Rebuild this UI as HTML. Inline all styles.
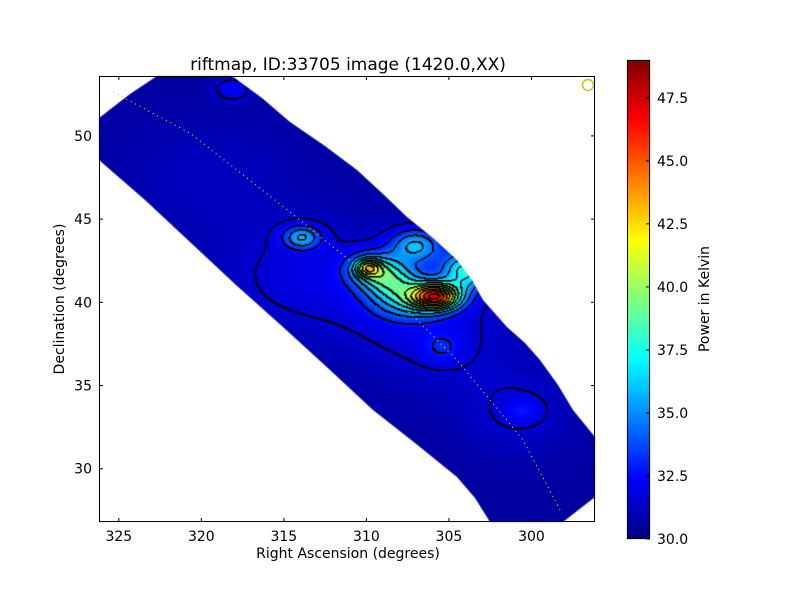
<!DOCTYPE html>
<html><head><meta charset="utf-8"><style>
body{margin:0;background:#fff;width:800px;height:600px;overflow:hidden;font-family:"DejaVu Sans","Liberation Sans",sans-serif}
#wrap{position:relative;width:800px;height:600px}
canvas,svg{position:absolute;left:0;top:0}
</style></head><body>
<div id="wrap">
<canvas id="hm" width="800" height="600"></canvas>
<svg id="ov" width="800" height="600"></svg>
</div>
<script>
// Gaussian emission components: RA (deg), Dec (deg), amplitude (K), sigma RA, sigma Dec
const srcRA  = [313.5, 306.0, 319.5, 301.0, 305.75, 309.9, 313.9, 304.0, 308.3, 307.0, 305.4, 300.5, 318.1, 307.5, 309.6];
const srcDec = [41.5,  38.5,  47.5,  33.5,  40.35,  42.07, 43.9,  41.9,  41.2,  43.4,  37.3,  33.5,  52.8,  40.0,  42.0];
const srcAmp = [1.2,   1.2,   0.6,   0.9,   13.5,   5.5,   4.5,  6.5,   5.0,   5.0,   1.5,   1.2,   1.6,   3.5,   5.0];
const srcSx  = [4.0,   3.5,   4.0,   2.5,   1.0,    0.5,   0.8,  1.0,   1.3,   1.1,   0.8,   0.8,   0.8,   1.5,   1.1];
const srcSy  = [2.5,   2.5,   2.5,   2.0,   0.55,   0.35,  0.5,  0.8,   0.8,   0.7,   0.6,   0.5,   0.5,   0.8,   0.7];
const baseLevel = 30.6;
const vmin = 30.0, vmax = 49.0;
const contourStart = 31.5, contourStep = 1.4;
const xTicks = [325, 320, 315, 310, 305, 300];
const yTicks = [30, 35, 40, 45, 50];
const cbTicks = [30.0, 32.5, 35.0, 37.5, 40.0, 42.5, 45.0, 47.5];

const PL=99, PR=595, PT=76, PB=522;
const raL=326.2, raR=296.15, decT=53.6, decB=26.8;
const xPx = ra => PL + (raL-ra)/(raL-raR)*(PR-PL);
const yPx = d => PT + (decT-d)/(decT-decB)*(PB-PT);
const raOf = x => raL - (x-PL)/(PR-PL)*(raL-raR);
const decOf = y => decT - (y-PT)/(PB-PT)*(decT-decB);
const CBT=60, CBB=539, CBL=627, CBR=650;
const cbY = v => CBB - (v-vmin)/(vmax-vmin)*(CBB-CBT);

function jet(t){t=Math.max(0,Math.min(1,t));const c=v=>Math.round(255*Math.max(0,Math.min(1,v)));
return [c(1.5-Math.abs(4*t-3)),c(1.5-Math.abs(4*t-2)),c(1.5-Math.abs(4*t-1))];}
function field(ra,dec){let v=baseLevel;for(let i=0;i<srcRA.length;i++){const dx=(ra-srcRA[i])/srcSx[i],dy=(dec-srcDec[i])/srcSy[i];v+=srcAmp[i]*Math.exp(-0.5*(dx*dx+dy*dy));}return v;}

const band=[[99,118],[130,94],[157,76],[232,76],[262,98],[290,122],[325,146],[357,170],[383,194],[407,217],[433,238],[457,260],[472,280],[483,300],[507,327],[525,343],[540,360],[558,385],[573,410],[595,437],[595,497],[563,522],[490,522],[475,498],[457,477],[415,443],[373,410],[330,370],[283,327],[236,285],[190,242],[145,200],[99,160]];

const cv=document.getElementById('hm'),ctx=cv.getContext('2d');
const W=PR-PL,H=PB-PT;
const off=document.createElement('canvas');off.width=W;off.height=H;
const octx=off.getContext('2d');const img=octx.createImageData(W,H);
const F=new Float32Array(W*H);
for(let j=0;j<H;j++)for(let i=0;i<W;i++)F[j*W+i]=field(raOf(PL+i+0.5),decOf(PT+j+0.5));
const lev=v=>Math.floor((v-contourStart)/contourStep);
const E=new Uint8Array(W*H);
for(let j=0;j<H;j++)for(let i=0;i<W;i++){
 const k=j*W+i,v=F[k],L=lev(v);
 if(v<contourStart-contourStep)continue;
 if(i<W-1&&lev(F[k+1])!==L){E[k]=1;}
 if(j<H-1&&lev(F[k+W])!==L){E[k]=1;}
}
for(let j=0;j<H;j++)for(let i=0;i<W;i++){
 const k=j*W+i;let [r,g,b]=jet((F[k]-vmin)/(vmax-vmin));
 if(E[k]){r=g=b=0;}
 else if((i>0&&E[k-1])||(j>0&&E[k-W])){r=Math.round(r*0.4);g=Math.round(g*0.4);b=Math.round(b*0.4);}
 img.data[4*k]=r;img.data[4*k+1]=g;img.data[4*k+2]=b;img.data[4*k+3]=255;
}
octx.putImageData(img,0,0);
ctx.save();ctx.beginPath();band.forEach((p,i)=>i?ctx.lineTo(p[0],p[1]):ctx.moveTo(p[0],p[1]));ctx.closePath();ctx.clip();
ctx.drawImage(off,PL,PT);ctx.restore();
for(let y=CBT;y<CBB;y++){const [r,g,b]=jet((CBB-y)/(CBB-CBT));ctx.fillStyle=`rgb(${r},${g},${b})`;ctx.fillRect(CBL,y,CBR-CBL,1);}

const NS='http://www.w3.org/2000/svg',svg=document.getElementById('ov');
function el(t,a,txt){const e=document.createElementNS(NS,t);for(const k in a)e.setAttribute(k,a[k]);if(txt!==undefined)e.textContent=txt;svg.appendChild(e);return e;}
const gp=[[113,92],[190,133],[290,212],[390,293],[457,360],[523,440],[560,510]];
const gl=el('polyline',{points:gp.map(p=>p.join(',')).join(' '),fill:'none',stroke:'#d8d800','stroke-width':1.2,'stroke-dasharray':'1,4'});


const mk=el('circle',{cx:588,cy:85,r:5.5,fill:'none',stroke:'#c8c800','stroke-width':1.5});


const fr=el('rect',{x:PL+0.5,y:PT+0.5,width:PR-PL-1,height:PB-PT-1,fill:'none',stroke:'#000','stroke-width':1});


xTicks.forEach(v=>{const x=xPx(v);
 el('line',{x1:x,y1:PB,x2:x,y2:PB-4,stroke:'#000'});el('line',{x1:x,y1:PT,x2:x,y2:PT+4,stroke:'#000'});
 const t=el('text',{x:x,y:PB+19,'font-size':14,'text-anchor':'middle'},String(v));
 
 });
yTicks.forEach(v=>{const y=yPx(v);
 el('line',{x1:PL,y1:y,x2:PL+4,y2:y,stroke:'#000'});el('line',{x1:PR,y1:y,x2:PR-4,y2:y,stroke:'#000'});
 const t=el('text',{x:PL-7,y:y+5,'font-size':14,'text-anchor':'end'},String(v));
 
 });
const cbf=el('rect',{x:CBL+0.5,y:CBT+0.5,width:CBR-CBL-1,height:CBB-CBT-1,fill:'none',stroke:'#000'});


cbTicks.forEach(v=>{const y=cbY(v);
 el('line',{x1:CBR,y1:y,x2:CBR-4,y2:y,stroke:'#000'});
 const t=el('text',{x:CBR+7,y:y+5,'font-size':14},v.toFixed(1));
 
 });
const ti=el('text',{x:348,y:70,'font-size':17,'text-anchor':'middle'},'riftmap, ID:33705 image (1420.0,XX)');


const xl=el('text',{x:348,y:558,'font-size':14,'text-anchor':'middle'},'Right Ascension (degrees)');


const yl=el('text',{x:64,y:299,'font-size':14,'text-anchor':'middle',transform:'rotate(-90 64 299)'},'Declination (degrees)');


const cl=el('text',{x:709,y:299,'font-size':14,'text-anchor':'middle',transform:'rotate(-90 709 299)'},'Power in Kelvin');


</script>
</body></html>
